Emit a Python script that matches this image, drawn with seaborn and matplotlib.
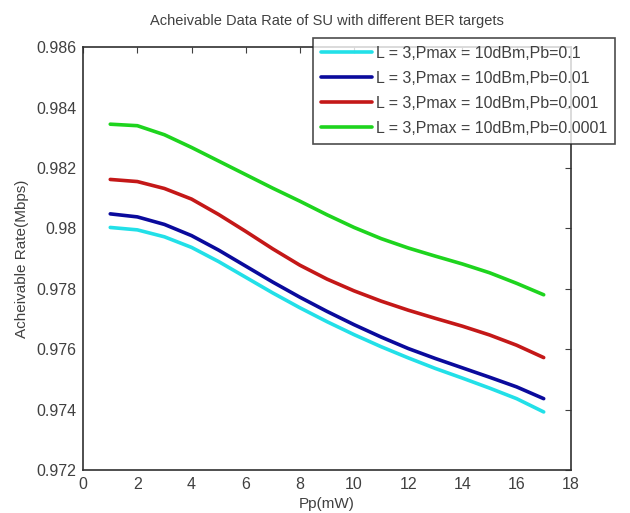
import pandas as pd
import matplotlib
matplotlib.use("Agg")
import matplotlib.pyplot as plt
import seaborn as sns

pp = list(range(1, 18))
labels = ["L = 3,Pmax = 10dBm,Pb=0.1", "L = 3,Pmax = 10dBm,Pb=0.01",
          "L = 3,Pmax = 10dBm,Pb=0.001", "L = 3,Pmax = 10dBm,Pb=0.0001"]
rate_pb1 = [0.98003, 0.97995, 0.97972, 0.97937, 0.97890, 0.97838, 0.97786, 0.97737, 0.97691,
            0.97648, 0.97608, 0.97571, 0.97536, 0.97504, 0.97471, 0.97436, 0.97392]
rate_pb01 = [0.98048, 0.98038, 0.98013, 0.97976, 0.97928, 0.97875, 0.97822, 0.97772, 0.97725,
             0.97681, 0.97640, 0.97602, 0.97569, 0.97538, 0.97507, 0.97475, 0.97436]
rate_pb001 = [0.98162, 0.98155, 0.98132, 0.98097, 0.98046, 0.97990, 0.97932, 0.97878, 0.97832,
              0.97793, 0.97759, 0.97729, 0.97702, 0.97676, 0.97647, 0.97613, 0.97572]
rate_pb0001 = [0.98345, 0.98340, 0.98310, 0.98268, 0.98223, 0.98178, 0.98133, 0.98090, 0.98045,
               0.98003, 0.97966, 0.97935, 0.97908, 0.97882, 0.97853, 0.97818, 0.97780]
colors = ["#22e0e8", "#0a0a9c", "#c41818", "#1ed41e"]

rows = []
for lab, vals in zip(labels, [rate_pb1, rate_pb01, rate_pb001, rate_pb0001]):
    for x, v in zip(pp, vals):
        rows.append({"Pp": x, "rate": v, "series": lab})
df = pd.DataFrame(rows)

sns.set_style("white")
plt.rcParams['font.family'] = ['Liberation Sans', 'DejaVu Sans']
txt = "#404040"

fig = plt.figure(figsize=(6.3, 5.13), dpi=100)
ax = fig.add_axes([0.132, 0.084, 0.774, 0.824])
sns.lineplot(data=df, x="Pp", y="rate", hue="series", palette=colors, linewidth=2.6, ax=ax)

ax.set_xlim(0, 18)
ax.set_ylim(0.972, 0.986)
ax.set_xticks(range(0, 19, 2))
ax.set_yticks([0.972, 0.974, 0.976, 0.978, 0.98, 0.982, 0.984, 0.986])
ax.set_yticklabels(["0.972", "0.974", "0.976", "0.978", "0.98", "0.982", "0.984", "0.986"])
ax.tick_params(direction="in", length=4, top=True, right=True, labelsize=11.5, colors=txt, pad=5)
for s in ax.spines.values():
    s.set_color("#303030")
    s.set_linewidth(1.2)
ax.set_xlabel("Pp(mW)", fontsize=11, color=txt, labelpad=4)
ax.set_ylabel("Acheivable Rate(Mbps)", fontsize=11, color=txt, labelpad=5)
ax.set_title("Acheivable Data Rate of SU with different BER targets", fontsize=10.5, color=txt, pad=16)

leg = ax.legend(loc="upper right", bbox_to_anchor=(0.976, 0.926), bbox_transform=fig.transFigure,
                fontsize=11.5, handlelength=3.2, handletextpad=0.2, labelspacing=0.62,
                frameon=True, fancybox=False, borderpad=0.5, borderaxespad=0)
leg.get_frame().set_edgecolor("#202020")
leg.get_frame().set_linewidth(1.2)
for t in leg.get_texts():
    t.set_color(txt)

fig.savefig("out.png", dpi=100)
